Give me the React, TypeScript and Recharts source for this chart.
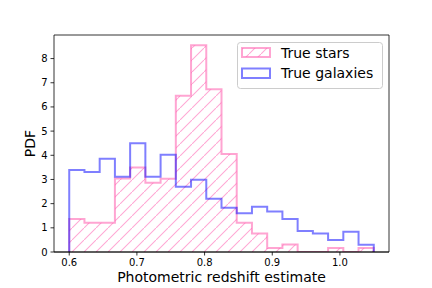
import React from 'react';
import { ComposedChart, Area, Line, XAxis, YAxis, Legend, ReferenceLine } from 'recharts';

// Histogram bin edges (20 bins from 0.6 to 1.05)
const binEdges = [
  0.6, 0.6225, 0.645, 0.6675, 0.69, 0.7125, 0.735, 0.7575, 0.78, 0.8025,
  0.825, 0.8475, 0.87, 0.8925, 0.915, 0.9375, 0.96, 0.9825, 1.005, 1.0275, 1.05,
];
// PDF values per bin
const starsPdf = [
  1.36, 1.21, 1.21, 3.04, 3.49, 2.86, 3.03, 6.46, 8.55, 6.73,
  4.05, 1.21, 0.77, 0.17, 0.31, 0, 0, 0.17, 0, 0.17,
];
const galaxiesPdf = [
  3.39, 3.31, 3.86, 3.11, 4.5, 3.11, 4.02, 2.7, 2.99, 2.2,
  1.83, 1.6, 1.87, 1.67, 1.36, 0.87, 0.77, 0.5, 0.84, 0.3,
];
const xTicks = [0.6, 0.7, 0.8, 0.9, 1.0];
const yTicks = [0, 1, 2, 3, 4, 5, 6, 7, 8];

const PINK = '#ff69b4';
const HATCH = '#ffa8d4';
const BLUE = '#0000ff';

// Build step outline data: rise from 0 at first edge, drop to 0 at last edge
const n = starsPdf.length;
const data: { x: number; stars: number; galaxies: number }[] = [];
data.push({ x: binEdges[0], stars: 0, galaxies: 0 });
for (let i = 0; i < n; i++) {
  data.push({ x: binEdges[i], stars: starsPdf[i], galaxies: galaxiesPdf[i] });
}
data.push({ x: binEdges[n], stars: starsPdf[n - 1], galaxies: galaxiesPdf[n - 1] });
data.push({ x: binEdges[n], stars: 0, galaxies: 0 });

const FONT = 'DejaVu Sans, sans-serif';

const renderPattern = (id: string) => (
  <pattern id={id} patternUnits="userSpaceOnUse" width={12} height={12}>
    <polygon points="0,11.25 11.25,0 12,0 12,0.75 0.75,12 0,12" fill={HATCH} />
  </pattern>
);

const renderLegend = () => (
  <svg width={147} height={48} style={{ display: 'block', overflow: 'visible' }}>
    <defs>{renderPattern('hatchLegend')}</defs>
    <rect x={0.5} y={0.5} width={145} height={46} rx={3} ry={3} fill="#ffffff" fillOpacity={0.8} stroke="#cccccc" strokeWidth={1} />
    <rect x={5} y={6} width={28} height={9} fill="url(#hatchLegend)" stroke={PINK} strokeOpacity={0.6} strokeWidth={2} />
    <text x={44} y={15.7} fontSize={14} fontFamily={FONT} fill="#000">True stars</text>
    <rect x={5} y={26.5} width={28} height={9.5} fill="none" stroke={BLUE} strokeOpacity={0.5} strokeWidth={2} />
    <text x={44} y={36.3} fontSize={14} fontFamily={FONT} fill="#000">True galaxies</text>
  </svg>
);

export default function App() {
  const xDomain: [number, number] = [0.5775, 1.0725];
  const yDomain: [number, number] = [0, 8.975];
  const tickStyle = { fontSize: 10, fontFamily: FONT, fill: '#000' };
  return (
    <div style={{ position: 'absolute', left: 0, top: 0, width: 432, height: 288, background: '#fff' }}>
      <ComposedChart width={432} height={288} data={data} margin={{ top: 35, right: 43, bottom: 0, left: 0 }}>
        <defs>{renderPattern('hatchStars')}</defs>
        <XAxis
          dataKey="x"
          type="number"
          domain={xDomain}
          ticks={xTicks}
          allowDataOverflow
          height={36}
          tickSize={3.5}
          tickMargin={3}
          tick={tickStyle}
          tickLine={{ stroke: '#000', strokeWidth: 0.8 }}
          axisLine={{ stroke: '#000', strokeWidth: 0.8 }}
          tickFormatter={(v: number) => v.toFixed(1)}
          label={{ value: 'Photometric redshift estimate', position: 'insideBottom', offset: 6, style: { fontSize: 14, fontFamily: FONT, fill: '#000' } }}
        />
        <YAxis
          type="number"
          domain={yDomain}
          ticks={yTicks}
          allowDataOverflow
          width={54}
          tickSize={3.5}
          tickMargin={3}
          tick={tickStyle}
          tickLine={{ stroke: '#000', strokeWidth: 0.8 }}
          axisLine={{ stroke: '#000', strokeWidth: 0.8 }}
          label={{ value: 'PDF', angle: -90, position: 'insideLeft', offset: 30, style: { fontSize: 14, fontFamily: FONT, fill: '#000', textAnchor: 'middle' } }}
        />
        <Area
          dataKey="stars"
          name="True stars"
          type="stepAfter"
          fill="url(#hatchStars)"
          fillOpacity={1}
          stroke={PINK}
          strokeOpacity={0.6}
          strokeWidth={2}
          dot={false}
          activeDot={false}
          isAnimationActive={false}
        />
        <Line
          dataKey="galaxies"
          name="True galaxies"
          type="stepAfter"
          stroke={BLUE}
          strokeOpacity={0.5}
          strokeWidth={2}
          dot={false}
          activeDot={false}
          isAnimationActive={false}
        />
        <ReferenceLine y={yDomain[1]} stroke="#000" strokeWidth={0.8} ifOverflow="visible" />
        <ReferenceLine x={xDomain[1]} stroke="#000" strokeWidth={0.8} ifOverflow="visible" />
        <ReferenceLine y={0} stroke="#000" strokeWidth={0.8} ifOverflow="visible" />
        <Legend
          layout="horizontal"
          verticalAlign="middle"
          align="center"
          content={renderLegend}
          wrapperStyle={{ position: 'absolute', left: 237, top: 42, width: 147, height: 48 }}
        />
      </ComposedChart>
    </div>
  );
}
